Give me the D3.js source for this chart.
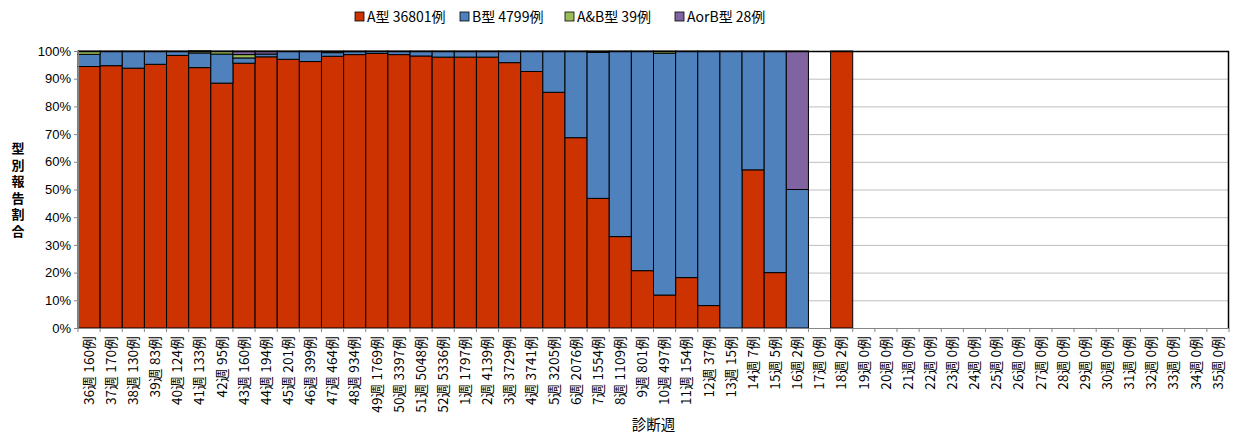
<!DOCTYPE html>
<html>
<head>
<meta charset="utf-8">
<script src="https://cdnjs.cloudflare.com/ajax/libs/d3/7.8.5/d3.min.js"></script>
<style>
  body { margin: 0; background: #fff; }
  text { font-family: "Noto Sans CJK JP", "Noto Sans", sans-serif; fill: #000; }
</style>
</head>
<body>
<svg id="chart" width="1234" height="435"></svg>
<script>
// 診断週
var weeks = ["36週","37週","38週","39週","40週","41週","42週","43週","44週","45週","46週","47週","48週",
  "49週","50週","51週","52週","1週","2週","3週","4週","5週","6週","7週","8週","9週","10週","11週",
  "12週","13週","14週","15週","16週","17週","18週","19週","20週","21週","22週","23週","24週","25週",
  "26週","27週","28週","29週","30週","31週","32週","33週","34週","35週"];
// 報告数（例）
var counts = [160,170,130,83,124,133,95,160,194,201,399,464,934,1769,3397,5048,5336,1797,4139,3729,
  3741,3205,2076,1554,1109,801,497,154,37,15,7,5,2,0,2,0,0,0,0,0,0,0,0,0,0,0,0,0,0,0,0,0];

// 型別割合 (%)
var typeA = [94.4,94.7,93.8,95.2,98.4,94.0,88.4,95.6,97.9,97.0,96.2,98.1,98.7,99.1,98.7,98.2,97.8,
  97.8,97.8,95.8,92.6,85.1,68.7,46.8,33.0,20.7,11.9,18.2,8.1,0,57.1,20,0,0,100,
  0,0,0,0,0,0,0,0,0,0,0,0,0,0,0,0,0];
var typeB = [4.4,5.3,6.2,4.8,1.6,5.3,10.5,1.9,1.0,3.0,3.8,1.3,1.1,0.9,1.3,1.8,2.2,
  2.2,2.2,4.2,7.4,14.9,31.3,52.7,67.0,79.3,87.3,81.8,91.9,100,42.9,80,50,0,0,
  0,0,0,0,0,0,0,0,0,0,0,0,0,0,0,0,0];
var typeAB = [1.2,0,0,0,0,0.8,1.1,1.2,0,0,0,0.6,0.2,0,0,0,0,
  0,0,0,0,0,0,0.5,0,0,0.8,0,0,0,0,0,0,0,0,
  0,0,0,0,0,0,0,0,0,0,0,0,0,0,0,0,0];
var typeAorB = [0,0,0,0,0,0,0,1.3,1.1,0,0,0,0,0,0,0,0,
  0,0,0,0,0,0,0,0,0,0,0,0,0,0,0,50,0,0,
  0,0,0,0,0,0,0,0,0,0,0,0,0,0,0,0,0];

var seriesNames = ["A型 36801例", "B型 4799例", "A&B型 39例", "AorB型 28例"];
var seriesKeys = ["A", "B", "AB", "AorB"];
var colors = ["#cc3300", "#4f81bd", "#9bbb59", "#8064a2"];
var yTicks = [0,10,20,30,40,50,60,70,80,90,100];

var svg = d3.select("#chart"),
    margin = {top: 51, right: 5, bottom: 107, left: 78},
    width = +svg.attr("width") - margin.left - margin.right,
    height = +svg.attr("height") - margin.top - margin.bottom,
    g = svg.append("g").attr("transform", "translate(" + margin.left + "," + margin.top + ")");

var data = weeks.map(function(w, i) {
  return {label: w + " " + counts[i] + "例", A: typeA[i], B: typeB[i], AB: typeAB[i], AorB: typeAorB[i]};
});

var x = d3.scaleBand()
    .domain(data.map(function(d) { return d.label; }))
    .range([0, width])
    .padding(0);

var y = d3.scaleLinear()
    .domain([0, 100])
    .range([height, 0]);

// gridlines
g.append("g")
  .selectAll("line")
  .data(yTicks.slice(1, -1))
  .enter().append("line")
    .attr("x1", 0).attr("x2", width)
    .attr("y1", function(d) { return y(d) + 0.5; })
    .attr("y2", function(d) { return y(d) + 0.5; })
    .attr("stroke", "#bfbfbf")
    .attr("stroke-width", 1);

var stack = d3.stack().keys(seriesKeys);

g.append("g")
  .selectAll("g")
  .data(stack(data))
  .enter().append("g")
    .attr("fill", function(d, i) { return colors[i]; })
  .selectAll("rect")
  .data(function(d) { return d.filter(function(p) { return p[1] - p[0] > 0; }); })
  .enter().append("rect")
    .attr("x", function(d) { return x(d.data.label); })
    .attr("y", function(d) { return y(d[1]); })
    .attr("width", x.bandwidth())
    .attr("height", function(d) { return y(d[0]) - y(d[1]); })
    .attr("stroke", "#000")
    .attr("stroke-width", 1);

// plot border: top/right black
g.append("line").attr("x1", 0).attr("x2", width).attr("y1", 0.5).attr("y2", 0.5)
  .attr("stroke", "#000").attr("stroke-width", 1.5);
g.append("line").attr("x1", width - 0.5).attr("x2", width - 0.5).attr("y1", 0).attr("y2", height)
  .attr("stroke", "#000").attr("stroke-width", 1.5);

// y axis
var yAxis = g.append("g")
    .call(d3.axisLeft(y).tickValues(yTicks).tickSize(4).tickFormat(function(d) { return d + "%"; }));
yAxis.select(".domain").attr("stroke", "#868686");
yAxis.selectAll(".tick line").attr("stroke", "#868686");
yAxis.selectAll(".tick text").attr("font-size", 13).attr("x", -7)
  .style("font-family", "'Liberation Sans', sans-serif");

// x axis
var xAxis = g.append("g")
    .attr("transform", "translate(0," + height + ")")
    .call(d3.axisBottom(x).tickSize(0));
xAxis.select(".domain").attr("stroke", "#868686");
xAxis.selectAll(".tick text")
    .attr("font-size", 13.5)
    .attr("letter-spacing", 0.2)
    .attr("transform", "rotate(-90)")
    .attr("text-anchor", "end")
    .attr("x", -8)
    .attr("y", 0)
    .attr("dy", "0.35em");
// boundary ticks
xAxis.append("g")
  .selectAll("line")
  .data(d3.range(weeks.length + 1))
  .enter().append("line")
    .attr("x1", function(i) { return i * x.step(); })
    .attr("x2", function(i) { return i * x.step(); })
    .attr("y1", 0).attr("y2", 4)
    .attr("stroke", "#868686");

// y axis title (vertical, one glyph per line)
svg.append("g")
  .selectAll("text")
  .data("型別報告割合".split(""))
  .enter().append("text")
    .attr("x", 18)
    .attr("y", function(c, i) { return 153 + i * 16.6; })
    .attr("font-size", 13)
    .attr("font-weight", "bold")
    .attr("text-anchor", "middle")
    .text(function(c) { return c; });

// x axis title
svg.append("text")
    .attr("x", margin.left + width / 2)
    .attr("y", 430)
    .attr("font-size", 14.5)
    .attr("text-anchor", "middle")
    .text("診断週");

// legend
var legendX = [355, 460, 565, 675];
var legend = svg.append("g");
seriesNames.forEach(function(name, i) {
  legend.append("rect")
    .attr("x", legendX[i]).attr("y", 12)
    .attr("width", 9).attr("height", 9)
    .attr("fill", colors[i])
    .attr("stroke", "#000").attr("stroke-width", 0.8);
  legend.append("text")
    .attr("x", legendX[i] + 12).attr("y", 22)
    .attr("font-size", 14)
    .text(name);
});
</script>
</body>
</html>
